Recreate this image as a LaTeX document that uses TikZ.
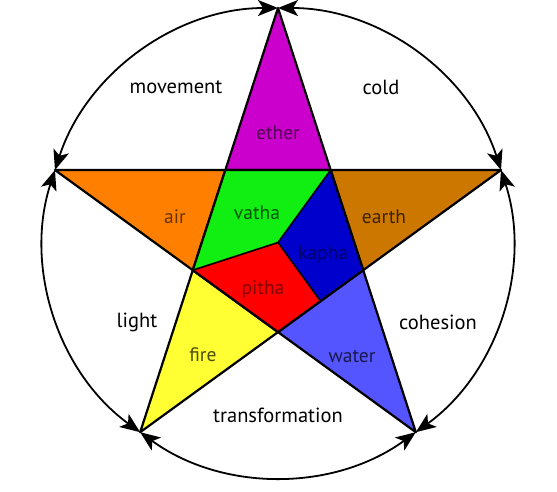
\documentclass[tikz,border=0pt]{standalone}
\usepackage{fontspec}
\setmainfont{PT Sans}
\usetikzlibrary{arrows.meta,calc}
\definecolor{etherc}{HTML}{CC00CC}
\definecolor{airc}{HTML}{FF8000}
\definecolor{earthc}{HTML}{CC7700}
\definecolor{firec}{HTML}{FFFF33}
\definecolor{waterc}{HTML}{5555FF}
\definecolor{vathac}{HTML}{11EE11}
\definecolor{kaphac}{HTML}{0000CC}
\definecolor{pithac}{HTML}{FF0000}
\tikzset{
  region/.style={draw=black, line width=2.2pt, line join=round},
  cyc/.style={line width=1.8pt, {Stealth[length=20pt,width=16pt,inset=5pt]}-{Stealth[length=20pt,width=16pt,inset=5pt]}},
  outer/.style={font=\fontsize{20.5}{24}\selectfont, text=black},
  inner/.style={font=\fontsize{19.5}{23}\selectfont},
}
\begin{document}
\begin{tikzpicture}[x=1pt,y=1pt]
\useasboundingbox (-278,-248.5) rectangle (279,242.5);
\def\R{234.5}
\def\r{89.6}
% outer vertices
\coordinate (T) at (90:\R);
\coordinate (L) at (162:\R);
\coordinate (BL) at (234:\R);
\coordinate (BR) at (306:\R);
\coordinate (Rt) at (18:\R);
% inner vertices
\coordinate (iTL) at (126:\r);
\coordinate (iTR) at (54:\r);
\coordinate (iL) at (198:\r);
\coordinate (iB) at (270:\r);
\coordinate (iR) at (342:\r);
\coordinate (C) at (0,0);
\coordinate (M) at ($(iB)!0.5!(iR)$);
% triangles
\filldraw[region, fill=etherc] (T) -- (iTR) -- (iTL) -- cycle;
\filldraw[region, fill=airc] (L) -- (iTL) -- (iL) -- cycle;
\filldraw[region, fill=earthc] (Rt) -- (iR) -- (iTR) -- cycle;
\filldraw[region, fill=firec] (BL) -- (iL) -- (iB) -- cycle;
\filldraw[region, fill=waterc] (BR) -- (iB) -- (iR) -- cycle;
% centre
\fill[vathac] (iTL) -- (iTR) -- (C) -- (iL) -- cycle;
\fill[kaphac] (iTR) -- (iR) -- (M) -- (C) -- cycle;
\fill[pithac] (iL) -- (C) -- (M) -- (iB) -- cycle;
\draw[line width=1.6pt, line join=round] (iTR) -- (C) -- (iL) (C) -- (M);
\draw[region] (iTL) -- (iTR) -- (iR) -- (iB) -- (iL) -- cycle;
% circle arcs
\draw[cyc] (T) arc[start angle=90, end angle=162, radius=\R];
\draw[cyc] (L) arc[start angle=162, end angle=234, radius=\R];
\draw[cyc] (BL) arc[start angle=234, end angle=306, radius=\R];
\draw[cyc] (BR) arc[start angle=306, end angle=378, radius=\R];
\draw[cyc] (Rt) arc[start angle=18, end angle=90, radius=\R];
% labels
\node[outer] (lmov) at (-102,155.5) {movement};
\node[outer] (lcold) at (103,155.5) {cold};
\node[outer] (llight) at (-141,-79.5) {light};
\node[outer] (lcoh) at (160,-79.5) {cohesion};
\node[outer] (ltrans) at (0,-172.5) {transformation};
\node[inner, text=etherc!40!black] (lether) at (0,109.5) {ether};
\node[inner, text=airc!40!black] (lair) at (-103,25.5) {air};
\node[inner, text=earthc!30!black] (learth) at (106,25.5) {earth};
\node[inner, text=firec!30!black] (lfire) at (-75,-112.5) {fire};
\node[inner, text=waterc!30!black] (lwater) at (74,-114.5) {water};
\node[inner, text=vathac!35!black] (lvatha) at (-21,29.5) {vatha};
\node[inner, text=kaphac!50!black] (lkapha) at (45,-12.5) {kapha};
\node[inner, text=pithac!50!black] (lpitha) at (-15,-47.5) {pitha};
\end{tikzpicture}
\end{document}
